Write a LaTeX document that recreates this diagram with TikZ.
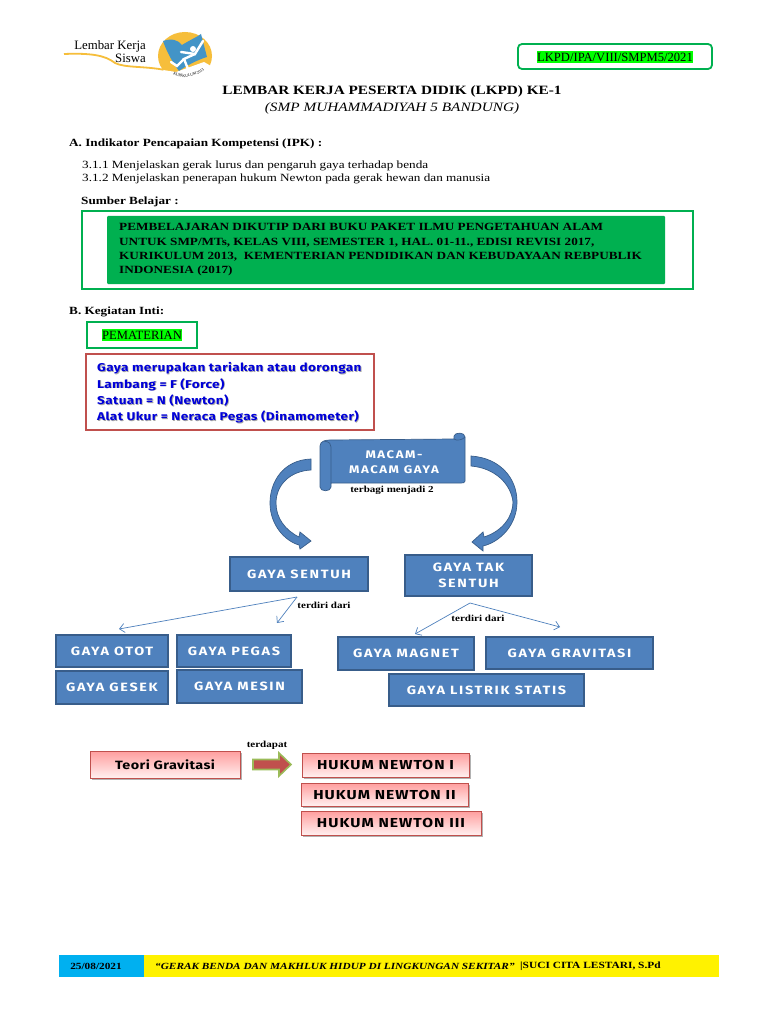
\documentclass[tikz,border=0pt]{standalone}
\usepackage{fontspec}
\usepackage{xcolor}
\setmainfont[FakeStretch=1.2]{Liberation Serif}
\newfontfamily\plainfont{Liberation Serif}
\newfontfamily\boxfont[FakeStretch=1.2,LetterSpace=14]{Fira Sans}
\newfontfamily\hukumfont[FakeStretch=1.2,LetterSpace=8]{Fira Sans}
\newfontfamily\notefont[FakeStretch=1.2,LetterSpace=3.5]{Fira Sans}
\usetikzlibrary{shadows,decorations.text,arrows.meta}
\definecolor{boxblue}{HTML}{4F81BD}
\definecolor{boxline}{HTML}{385D8A}
\definecolor{sumbergreen}{HTML}{00B050}
\definecolor{framered}{HTML}{C0504D}
\definecolor{arrowgreen}{HTML}{9BBB59}
\definecolor{markgreen}{HTML}{00FF00}
\definecolor{datecyan}{HTML}{00B0F0}
\definecolor{logoyellow}{HTML}{F6BE3B}
\newcommand{\withshadow}[1]{\makebox[0pt][l]{\hspace{0.8pt}\raisebox{-0.8pt}{\color{black!35}#1}}#1}
\begin{document}
\begin{tikzpicture}[x=1pt, y=-1pt,
  every node/.style={font=\fontsize{11}{13}\selectfont, inner sep=0pt},
  gayabox/.style={draw=boxline, line width=1.2pt, fill=boxblue, text=white, align=center, font=\boxfont\bfseries\fontsize{12}{16}\selectfont},
  hukumbox/.style={draw=framered, line width=0.9pt, top color=red!38!white, bottom color=red!6!white, drop shadow={shadow xshift=1.5pt, shadow yshift=-1.5pt, opacity=0.3, fill=black}, font=\hukumfont\bfseries\fontsize{13}{15}\selectfont},
  thinarrow/.style={draw=boxblue, line width=0.7pt, -{Straight Barb[length=5pt, width=9pt]}},
  small label/.style={font=\bfseries\fontsize{9.2}{11}\selectfont},
  heading/.style={font=\bfseries\fontsize{11}{13}\selectfont, anchor=west},
  curveblue/.style={fill=boxblue, draw=boxline, line width=0.7pt}]
  \useasboundingbox (0,0) rectangle (768,1024);
  \fill[white] (0,0) rectangle (768,1024);

  \draw[logoyellow, line width=1.8pt] (64,54) .. controls (90,53) and (105,55) .. (115,63) .. controls (125,68) and (145,66) .. (165,70);
  \fill[logoyellow] (185,56) ellipse (27 and 24);
  \fill[white] (163,70) .. controls (172,86) and (200,86) .. (211,66) -- (204,62) -- (176,72) -- cycle;
  \fill[boxblue!85!cyan] (163,41) .. controls (172,38) and (178,40) .. (182,45) .. controls (190,40) and (197,37) .. (201,34) -- (207,57) .. controls (197,60) and (186,66) .. (179,71) .. controls (172,62) and (166,50) .. (163,41) -- cycle;
  \fill[white] (193,49) circle (3);
  \draw[white, line width=2.4pt, line cap=round] (203,41) -- (195,54) -- (181,52);
  \draw[white, line width=2.4pt, line cap=round] (195,54) -- (184,59) -- (188,69);
  \draw[white, line width=2.4pt, line cap=round] (184,59) -- (177,66) -- (171,62);
  \path[decorate, decoration={text along path, text align=center, text={|\plainfont\fontsize{4}{4}\selectfont|KURIKULUM 2013}}] (170,72) .. controls (178,80) and (197,79) .. (207,67);
  \node[font=\plainfont\fontsize{12.8}{15}\selectfont, anchor=east] (logotop) at (146,46) {Lembar Kerja};
  \node[font=\plainfont\fontsize{12.8}{15}\selectfont, anchor=east] (logobot) at (146,58) {Siswa};

  \draw[sumbergreen, line width=1.8pt, rounded corners=4pt] (518,44) rectangle (712,69);
  \node[fill=markgreen, inner xsep=0.5pt, inner ysep=1.5pt, font=\plainfont\fontsize{12.6}{14}\selectfont] (kode) at (615,57) {LKPD/IPA/VIII/SMPM5/2021};

  \node[font=\bfseries\fontsize{12.7}{15}\selectfont] (judul) at (392,91) {LEMBAR KERJA PESERTA DIDIK (LKPD) KE-1};
  \node[font=\itshape\fontsize{12.75}{15}\selectfont] (sekolah) at (392,108) {(SMP MUHAMMADIYAH 5 BANDUNG)};

  \node[heading] (bagA) at (69,144) {A. Indikator Pencapaian Kompetensi (IPK) :};
  \node[anchor=west] (ipka) at (82,166) {3.1.1 Menjelaskan gerak lurus dan pengaruh gaya terhadap benda};
  \node[anchor=west] (ipkb) at (82,178.5) {3.1.2 Menjelaskan penerapan hukum Newton pada gerak hewan dan manusia};
  \node[heading] (sumber) at (81,202) {Sumber Belajar :};

  \draw[sumbergreen, line width=1.8pt] (82,211) rectangle (693,289);
  \fill[sumbergreen, rounded corners=1pt] (107,216) rectangle (665,284);
  \node[anchor=north west, align=left, font=\bfseries\fontsize{11}{14.2}\selectfont] (sumberteks) at (119,223.5) {PEMBELAJARAN DIKUTIP DARI BUKU PAKET ILMU PENGETAHUAN ALAM\\UNTUK SMP/MTs, KELAS VIII, SEMESTER 1, HAL. 01-11., EDISI REVISI 2017,\\KURIKULUM 2013,\ \ KEMENTERIAN PENDIDIKAN DAN KEBUDAYAAN REBPUBLIK\\INDONESIA (2017)};

  \node[heading] (bagB) at (69,312) {B. Kegiatan Inti:};
  \draw[sumbergreen, line width=1.6pt] (87,322) rectangle (197,348);
  \node[fill=markgreen, inner xsep=0.5pt, inner ysep=1.5pt, font=\plainfont\fontsize{12.6}{14}\selectfont] (materi) at (142,335) {PEMATERIAN};

  \draw[framered, line width=1.5pt] (86,354) rectangle (374,430);
  \node[anchor=north west, align=left, text=blue!85!black, font=\notefont\bfseries\fontsize{11.3}{16.2}\selectfont] (konsep) at (97,362.5) {\withshadow{Gaya merupakan tariakan atau dorongan}\\\withshadow{Lambang = F (Force)}\\\withshadow{Satuan = N (Newton)}\\\withshadow{Alat Ukur = Neraca Pegas (Dinamometer)}};

  \draw[curveblue] (320,446) .. controls (320,441) and (326,440) .. (330,440) -- (454,439) -- (454,436) .. controls (455,432) and (465,432) .. (465,437) -- (465,481) .. controls (465,483) and (463,483) .. (461,483) -- (331,483) -- (331,487) .. controls (331,492) and (320,492) .. (320,487) -- cycle;
  \draw[boxline, line width=0.7pt] (324,441) .. controls (330,442) and (331,444) .. (331,447) -- (331,483);
  \draw[boxline, line width=0.7pt] (454,439) .. controls (456,441) and (463,440) .. (465,437);
  \node[text=white, align=center, font=\boxfont\bfseries\fontsize{11}{15.5}\selectfont] (macam) at (394,462) {MACAM-\\MACAM GAYA};
  \node[small label] (terbagi) at (392,490) {terbagi menjadi 2};

  \draw[curveblue] (311,459) .. controls (283,460) and (270,482) .. (270,503) .. controls (270,525) and (285,541) .. (299,545) -- (300,549) -- (311,541) -- (300,532) -- (299,537) .. controls (285,530) and (276,518) .. (276,503) .. controls (276,485) and (290,471) .. (311,470) -- cycle;
  \draw[curveblue] (471,456) .. controls (500,458) and (517,478) .. (517,502) .. controls (517,525) and (500,542) .. (483,546) -- (483,551) -- (472,542) -- (483,532) -- (484,537) .. controls (503,531) and (513,516) .. (513,502) .. controls (511,484) and (495,468) .. (471,466) -- cycle;

  \node[gayabox, minimum width=138pt, minimum height=34pt] (sentuh) at (299,574) {GAYA SENTUH};
  \node[gayabox, minimum width=127pt, minimum height=41pt] (taksentuh) at (468.5,575.5) {GAYA TAK\\SENTUH};
  \node[gayabox, minimum width=112pt, minimum height=32pt] (otot) at (112,651) {GAYA OTOT};
  \node[gayabox, minimum width=114pt, minimum height=32pt] (pegas) at (234,651) {GAYA PEGAS};
  \node[gayabox, minimum width=112pt, minimum height=33pt] (gesek) at (112,687.5) {GAYA GESEK};
  \node[gayabox, minimum width=125pt, minimum height=33pt] (mesin) at (239.5,686.5) {GAYA MESIN};
  \node[gayabox, minimum width=136pt, minimum height=33pt] (magnet) at (406,653.5) {GAYA MAGNET};
  \node[gayabox, minimum width=167pt, minimum height=32pt] (gravitasi) at (569.5,653) {GAYA GRAVITASI};
  \node[gayabox, minimum width=195pt, minimum height=32pt] (listrik) at (486.5,690) {GAYA LISTRIK STATIS};

  \coordinate (sentuhpuncak) at (297,597);
  \coordinate (sentuhkiri) at (119,629);
  \coordinate (sentuhkanan) at (277,623);
  \coordinate (takpuncak) at (470,603);
  \coordinate (takkiri) at (415,634);
  \coordinate (takkanan) at (560,627);
  \draw[thinarrow] (sentuhpuncak) -- (sentuhkiri);
  \draw[thinarrow] (sentuhpuncak) -- (sentuhkanan);
  \draw[thinarrow] (takpuncak) -- (takkiri);
  \draw[thinarrow] (takpuncak) -- (takkanan);
  \node[small label] (dari) at (324,605) {terdiri dari};
  \node[small label] (darib) at (478,618) {terdiri dari};

  \node[hukumbox, minimum width=150pt, minimum height=27pt] (teori) at (165,764.5) {\notefont\bfseries\fontsize{12}{14}\selectfont Teori Gravitasi};
  \node[hukumbox, minimum width=167pt, minimum height=24pt] (hukuma) at (385.5,765) {HUKUM NEWTON I};
  \node[hukumbox, minimum width=167pt, minimum height=23pt] (hukumb) at (384.5,794.5) {HUKUM NEWTON II};
  \node[hukumbox, minimum width=180pt, minimum height=24pt] (hukumc) at (391,823) {HUKUM NEWTON III};
  \node[small label] (terdapat) at (267,745) {terdapat};
  \draw[fill=framered, draw=arrowgreen, line width=1.6pt, line join=miter] (253,759.5) -- (279,759.5) -- (279,753) -- (291,764.5) -- (279,776) -- (279,769.5) -- (253,769.5) -- cycle;

  \fill[yellow] (144,955) rectangle (719,977);
  \fill[datecyan] (59,955) rectangle (144,977);
  \node[font=\bfseries\fontsize{9.4}{11}\selectfont] (tanggal) at (96,966) {25/08/2021};
  \node[font=\bfseries\itshape\fontsize{9.4}{11}\selectfont, anchor=west] (tema) at (155,966) {``GERAK BENDA DAN MAKHLUK HIDUP DI LINGKUNGAN SEKITAR''};
  \node[font=\bfseries\fontsize{9.5}{11}\selectfont, anchor=west] (guru) at (520,966) {|SUCI CITA LESTARI, S.Pd};
\end{tikzpicture}
\end{document}
